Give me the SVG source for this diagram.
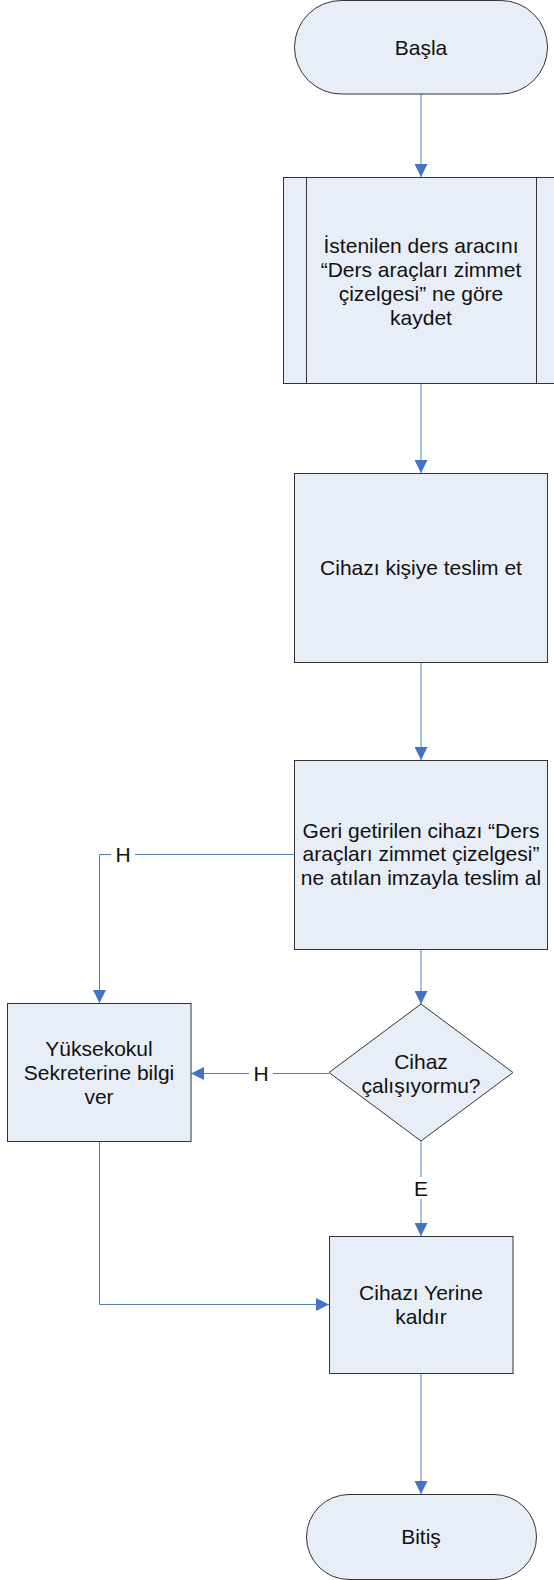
<svg xmlns="http://www.w3.org/2000/svg" width="554" height="1580" viewBox="0 0 554 1580">
<defs>
<style>
.n{fill:#E8EEF7;stroke:#333333;stroke-width:1}
.t{font-family:"Liberation Sans",Arial,sans-serif;font-size:21px;fill:#111111;text-anchor:middle}
.c{fill:none;stroke:#4F81BD;stroke-width:1}
.lb{fill:#FFFFFF}
</style>
<marker id="ah" markerUnits="userSpaceOnUse" markerWidth="13" markerHeight="13" refX="13" refY="6.5" orient="auto">
<path d="M0,0 L13,6.5 L0,13 Z" fill="#4472C4"/>
</marker>
</defs>
<rect width="554" height="1580" fill="#FFFFFF"/>
<g id="connectors">
<path class="c" d="M421,94 L421,177" marker-end="url(#ah)"/>
<path class="c" d="M421,384 L421,473" marker-end="url(#ah)"/>
<path class="c" d="M421,662 L421,760" marker-end="url(#ah)"/>
<path class="c" d="M294,854.5 L99.5,854.5 L99.5,1003" marker-end="url(#ah)"/>
<path class="c" d="M421,949 L421,1004" marker-end="url(#ah)"/>
<path class="c" d="M329,1073.5 L191,1073.5" marker-end="url(#ah)"/>
<path class="c" d="M421,1141 L421,1236" marker-end="url(#ah)"/>
<path class="c" d="M99.5,1141 L99.5,1304.5 L329,1304.5" marker-end="url(#ah)"/>
<path class="c" d="M421,1373 L421,1494" marker-end="url(#ah)"/>
<rect class="lb" x="111" y="844" width="24" height="20"/>
<text class="t" x="123" y="861.5">H</text>
<rect class="lb" x="249" y="1063" width="24" height="20"/>
<text class="t" x="261" y="1080.5">H</text>
<rect class="lb" x="410" y="1177" width="22" height="22"/>
<text class="t" x="421" y="1195.5">E</text>
</g>
<g id="start">
<rect class="n" x="294.5" y="0.5" width="253" height="93.5" rx="46.75" ry="46.75"/>
<text class="t" x="421" y="54.5">Başla</text>
</g>
<g id="kaydet">
<rect class="n" x="283.5" y="177.5" width="276" height="206"/>
<line x1="306.5" y1="177.5" x2="306.5" y2="383.5" stroke="#333333" stroke-width="1"/>
<line x1="536.5" y1="177.5" x2="536.5" y2="383.5" stroke="#333333" stroke-width="1"/>
<text class="t" x="421" y="252.5">İstenilen ders aracını</text>
<text class="t" x="421" y="276.5">“Ders araçları zimmet</text>
<text class="t" x="421" y="300.5">çizelgesi” ne göre</text>
<text class="t" x="421" y="324.5">kaydet</text>
</g>
<g id="teslim-et">
<rect class="n" x="294.5" y="473.5" width="253" height="189"/>
<text class="t" x="421" y="574.5">Cihazı kişiye teslim et</text>
</g>
<g id="teslim-al">
<rect class="n" x="294.5" y="760.5" width="253" height="189"/>
<text class="t" x="421" y="837.5">Geri getirilen cihazı “Ders</text>
<text class="t" x="421" y="861">araçları zimmet çizelgesi”</text>
<text class="t" x="421" y="884.5">ne atılan imzayla teslim al</text>
</g>
<g id="karar">
<polygon class="n" points="421,1004 513,1072.5 421,1141 329,1072.5"/>
<text class="t" x="421" y="1068.5">Cihaz</text>
<text class="t" x="421" y="1092.5">çalışıyormu?</text>
</g>
<g id="bilgi-ver">
<rect class="n" x="7.5" y="1003.5" width="183.5" height="138"/>
<text class="t" x="99" y="1055.5">Yüksekokul</text>
<text class="t" x="99" y="1079.5">Sekreterine bilgi</text>
<text class="t" x="99" y="1103.5">ver</text>
</g>
<g id="yerine-kaldir">
<rect class="n" x="329.5" y="1236.5" width="183.5" height="137"/>
<text class="t" x="421" y="1300">Cihazı Yerine</text>
<text class="t" x="421" y="1324">kaldır</text>
</g>
<g id="end">
<rect class="n" x="306.5" y="1494.5" width="230" height="85" rx="42.5" ry="42.5"/>
<text class="t" x="421" y="1543.5">Bitiş</text>
</g>
</svg>
